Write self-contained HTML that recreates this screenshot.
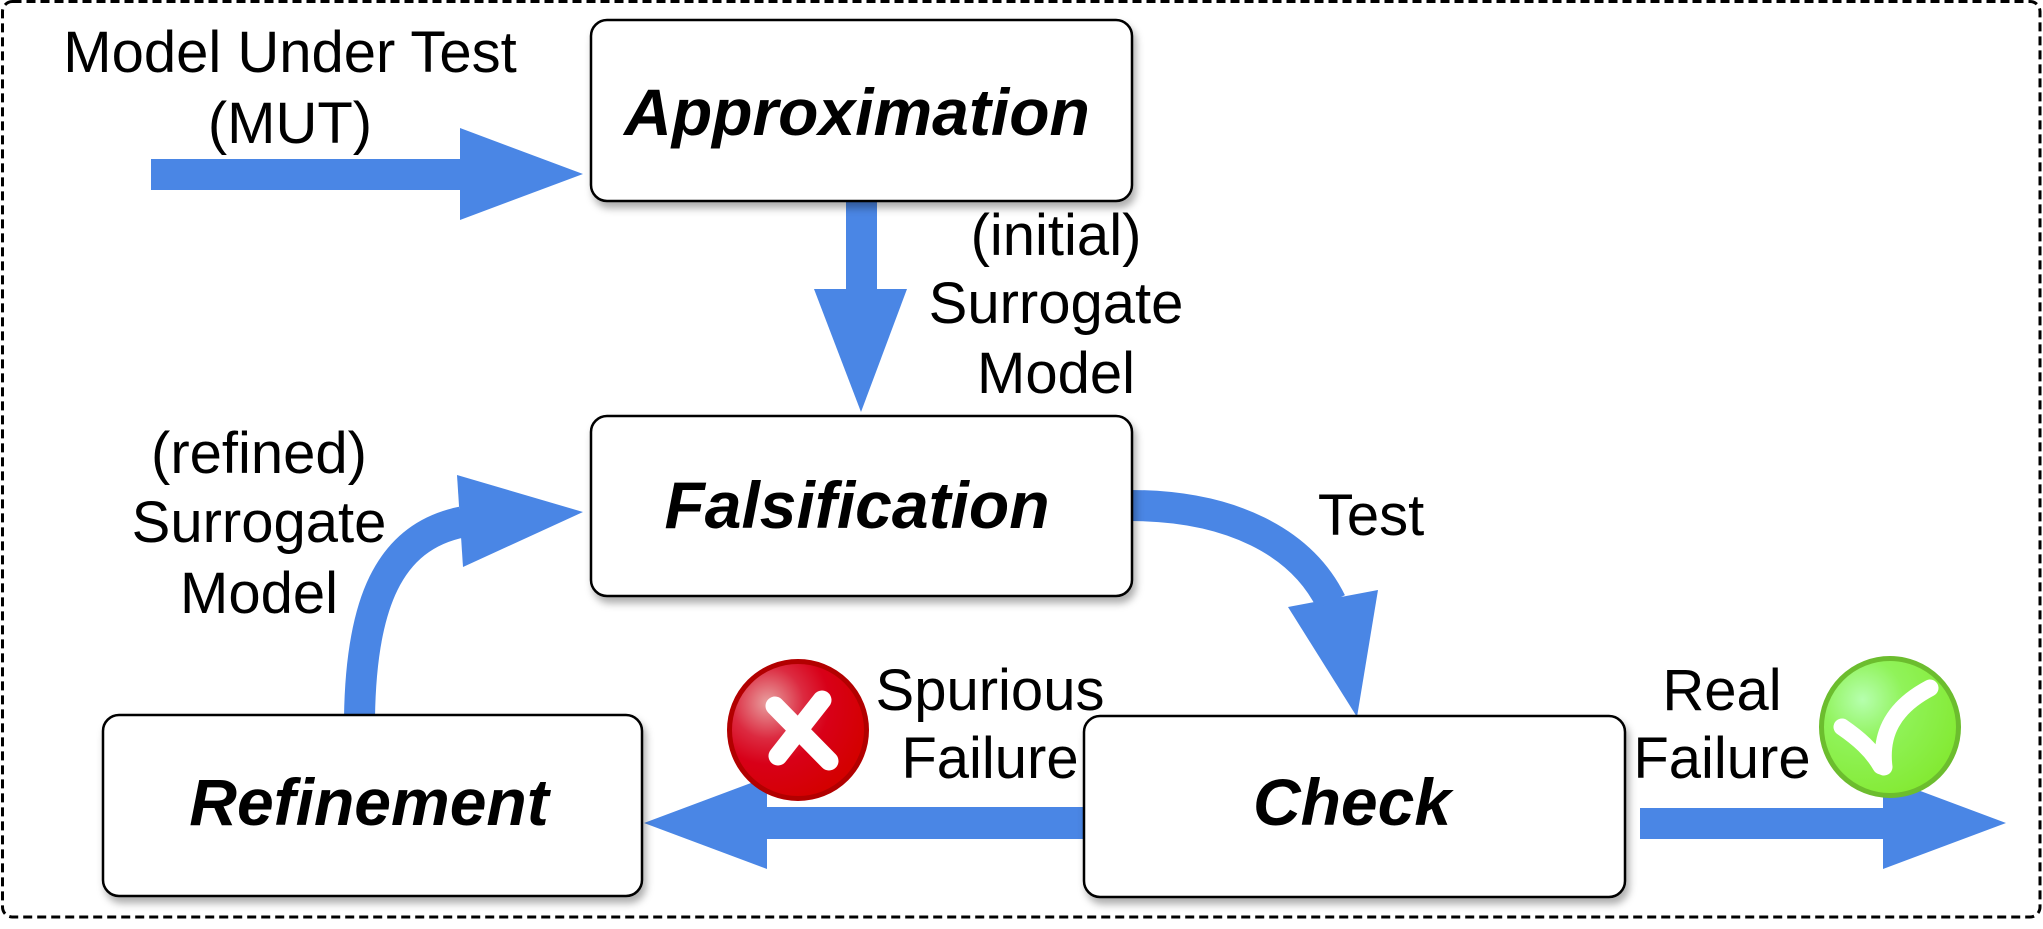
<!DOCTYPE html>
<html>
<head>
<meta charset="utf-8">
<style>
  html, body { margin:0; padding:0; background:#ffffff; }
  body { width:2043px; height:929px; overflow:hidden; }
  svg { display:block; }
  .lbl { font-family:"Liberation Sans", Arial, sans-serif; font-size:58px; fill:#000; }
  .ttl { font-family:"Liberation Sans", Arial, sans-serif; font-size:66px; font-weight:bold; font-style:italic; fill:#000; }
</style>
</head>
<body>
<svg width="2043" height="929" viewBox="0 0 2043 929" xmlns="http://www.w3.org/2000/svg">
  <defs>
    <filter id="sh" x="-10%" y="-10%" width="125%" height="135%">
      <feDropShadow dx="3" dy="6" stdDeviation="4" flood-color="#000" flood-opacity="0.32"/>
    </filter>
    <radialGradient id="redg" cx="0.28" cy="0.3" r="0.75">
      <stop offset="0" stop-color="#e8a0a0"/>
      <stop offset="0.35" stop-color="#dc2a40"/>
      <stop offset="0.6" stop-color="#d80018"/>
      <stop offset="1" stop-color="#d40000"/>
    </radialGradient>
    <radialGradient id="greeng" cx="0.3" cy="0.3" r="0.75">
      <stop offset="0" stop-color="#b6ffae"/>
      <stop offset="0.4" stop-color="#90f35a"/>
      <stop offset="1" stop-color="#84ea34"/>
    </radialGradient>
  </defs>

  <!-- dashed outer border -->
  <rect x="2.5" y="1.5" width="2037.5" height="915.5" rx="10" ry="10" fill="none" stroke="#000" stroke-width="3" stroke-dasharray="9 5"/>

  <!-- arrows -->
  <g fill="#4a86e5">
    <rect x="151" y="159" width="310" height="31"/>
    <polygon points="460,128 460,220 583,174"/>
    <rect x="846" y="199" width="31" height="91"/>
    <polygon points="814,289 907,289 861,412"/>
    <rect x="765" y="807" width="320" height="32"/>
    <polygon points="767,777 767,869 644,823"/>
    <rect x="1640" y="808" width="244" height="31"/>
    <polygon points="1883,777 1883,869 2006,823"/>
    <polygon points="1288,607 1378,590 1357,717"/>
    <polygon points="457,475 463,567 583,512"/>
  </g>
  <g fill="none" stroke="#4a86e5" stroke-width="31">
    <path d="M1128,505.5 C1232,505 1302,543 1331,602"/>
    <path d="M359.5,718 C361,605 388,537 462,522"/>
  </g>

  <!-- boxes -->
  <g fill="#fff" stroke="#000" stroke-width="2.5" filter="url(#sh)">
    <rect x="591" y="20" width="541" height="181" rx="16" ry="16"/>
    <rect x="591" y="416" width="541" height="180" rx="16" ry="16"/>
    <rect x="103" y="715" width="539" height="181" rx="16" ry="16"/>
    <rect x="1084" y="716" width="541" height="181" rx="16" ry="16"/>
  </g>

  <!-- box titles -->
  <text class="ttl" x="857" y="135" text-anchor="middle">Approximation</text>
  <text class="ttl" x="857" y="528" text-anchor="middle">Falsification</text>
  <text class="ttl" x="369" y="825" text-anchor="middle">Refinement</text>
  <text class="ttl" x="1352" y="825" text-anchor="middle">Check</text>

  <!-- labels -->
  <text class="lbl" x="290" y="72" text-anchor="middle">Model Under Test</text>
  <text class="lbl" x="290" y="143" text-anchor="middle">(MUT)</text>

  <text class="lbl" x="1056" y="255" text-anchor="middle">(initial)</text>
  <text class="lbl" x="1056" y="323" text-anchor="middle">Surrogate</text>
  <text class="lbl" x="1056" y="393" text-anchor="middle">Model</text>

  <text class="lbl" x="259" y="473" text-anchor="middle">(refined)</text>
  <text class="lbl" x="259" y="542" text-anchor="middle">Surrogate</text>
  <text class="lbl" x="259" y="613" text-anchor="middle">Model</text>

  <text class="lbl" x="1371" y="535" text-anchor="middle">Test</text>

  <text class="lbl" x="990" y="710" text-anchor="middle">Spurious</text>
  <text class="lbl" x="990" y="778" text-anchor="middle">Failure</text>

  <text class="lbl" x="1722" y="710" text-anchor="middle">Real</text>
  <text class="lbl" x="1722" y="778" text-anchor="middle">Failure</text>

  <!-- red X icon -->
  <circle cx="798" cy="730" r="68.5" fill="url(#redg)" stroke="#b20000" stroke-width="5"/>
  <g stroke="#fff" stroke-width="19" stroke-linecap="round" fill="none">
    <path d="M775,706 L829,761"/>
    <path d="M822,700 L778,756"/>
  </g>

  <!-- green check icon -->
  <circle cx="1890" cy="727" r="68.5" fill="url(#greeng)" stroke="#6cbd2e" stroke-width="5"/>
  <g stroke="#fff" stroke-width="17" stroke-linecap="round" stroke-linejoin="round" fill="none">
    <path d="M1842,727 C1858,738 1872,750 1881,766"/>
    <path d="M1884,767 C1880,735 1892,708 1930,688"/>
  </g>
</svg>
</body>
</html>
